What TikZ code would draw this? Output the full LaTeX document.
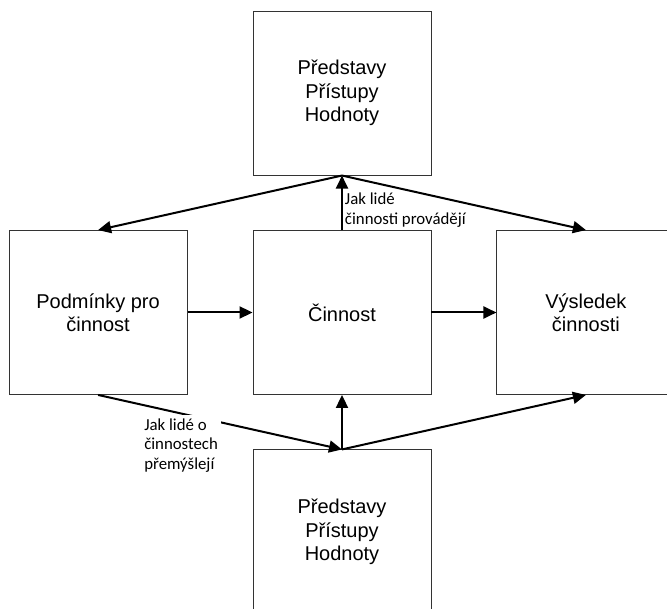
\documentclass[tikz,border=0pt]{standalone}
\usepackage{fontspec}
\setmainfont{Liberation Sans}
\newfontfamily\popisfont{Carlito}
\usetikzlibrary{arrows.meta}
\usetikzlibrary{positioning}

\tikzset{
	blok/.style={draw=black!80,line width=0.9pt,minimum width=178pt,minimum height=164pt,
		align=center,font=\fontsize{20}{23.5}\selectfont},
	popis/.style={align=left,inner sep=2pt,font=\popisfont\fontsize{16.8}{19.5}\selectfont},
	sipka/.style={-{Triangle[length=13pt,width=12pt]},line width=2pt}
}

\begin{document}
\begin{tikzpicture}[node distance=54.5pt and 65pt]
	\path[use as bounding box,clip] (-342pt,-296.5pt) rectangle (325pt,312.5pt);
	
	\node[blok]                 (cin)               {Činnost};
	\node[blok,left=of cin]     (podm)              {Podmínky pro\\činnost};
	\node[blok,right=of cin]    (vysl)              {Výsledek\\činnosti};
	\node[blok,above=of cin]    (pred1)             {Představy\\Přístupy\\Hodnoty};
	\node[blok,below=of cin]    (pred2)             {Představy\\Přístupy\\Hodnoty};
	
	\draw[sipka] (podm) -- (cin);
	\draw[sipka] (cin) -- (vysl);
	\draw[sipka] (cin) -- (pred1) node[pos=0,anchor=south west,popis] {Jak lidé\\činnosti provádějí};
	\draw[sipka] (podm.south) -- (pred2.north)
		node[pos=0.173,anchor=north west,yshift=-10pt,popis,inner sep=3pt,fill=white] {Jak lidé o\\činnostech\\přemýšlejí};
	\draw[sipka] (pred1.south) -- (podm.north);
	\draw[sipka] (pred1.south) -- (vysl.north);
	\draw[sipka] (pred2) -- (cin);
	\draw[sipka] (pred2.north) -- (vysl.south);
\end{tikzpicture}
\end{document}
